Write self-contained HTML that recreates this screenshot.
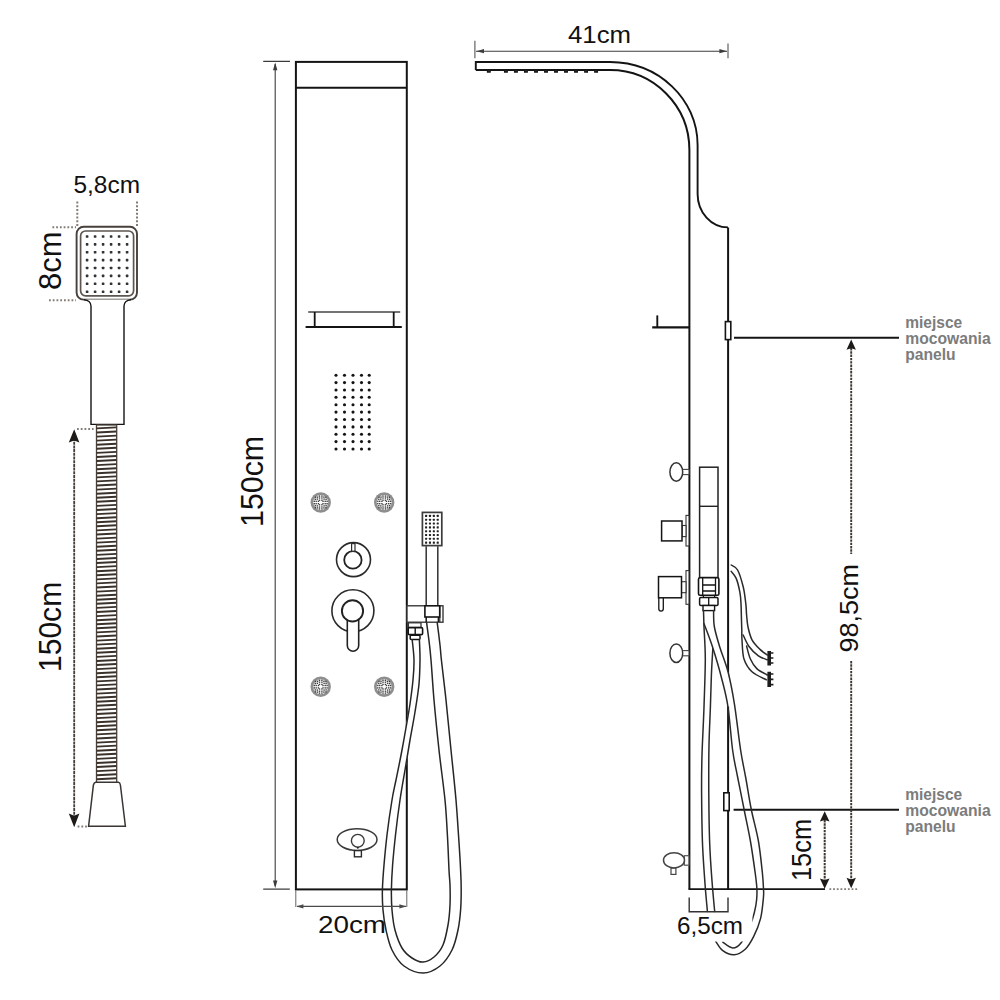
<!DOCTYPE html>
<html><head><meta charset="utf-8"><title>Panel prysznicowy - wymiary</title>
<style>
html,body{margin:0;padding:0;background:#fff;}
body{width:1000px;height:1000px;overflow:hidden;font-family:"Liberation Sans",sans-serif;}
svg{display:block;}
text{font-family:"Liberation Sans",sans-serif;}
</style></head><body>
<svg width="1000" height="1000" viewBox="0 0 1000 1000">
<rect width="1000" height="1000" fill="#fff"/>
<g stroke="#6e665f" stroke-width="2" stroke-dasharray="1.8 1.95" fill="none" opacity="0.85">
<path d="M77.3 201.6V226M137 201.6V226M52.4 227.3H76M49 300.2H76M77 429H93.6M77.6 826.6H89"/>
</g>
<rect x="76.6" y="226.8" width="60.4" height="72.8" rx="7" fill="#fff" stroke="#48403b" stroke-width="1.9"/>
<rect x="80.6" y="231" width="53" height="64.8" rx="5" fill="none" stroke="#5d5550" stroke-width="1.7"/>
<g fill="#333"><rect x="85.8" y="235.2" width="2.6" height="2.6" rx="0.6"/><rect x="93.8" y="235.2" width="2.6" height="2.6" rx="0.6"/><rect x="101.8" y="235.2" width="2.6" height="2.6" rx="0.6"/><rect x="109.8" y="235.2" width="2.6" height="2.6" rx="0.6"/><rect x="117.8" y="235.2" width="2.6" height="2.6" rx="0.6"/><rect x="125.8" y="235.2" width="2.6" height="2.6" rx="0.6"/><rect x="85.8" y="243.1" width="2.6" height="2.6" rx="0.6"/><rect x="93.8" y="243.1" width="2.6" height="2.6" rx="0.6"/><rect x="101.8" y="243.1" width="2.6" height="2.6" rx="0.6"/><rect x="109.8" y="243.1" width="2.6" height="2.6" rx="0.6"/><rect x="117.8" y="243.1" width="2.6" height="2.6" rx="0.6"/><rect x="125.8" y="243.1" width="2.6" height="2.6" rx="0.6"/><rect x="85.8" y="251.0" width="2.6" height="2.6" rx="0.6"/><rect x="93.8" y="251.0" width="2.6" height="2.6" rx="0.6"/><rect x="101.8" y="251.0" width="2.6" height="2.6" rx="0.6"/><rect x="109.8" y="251.0" width="2.6" height="2.6" rx="0.6"/><rect x="117.8" y="251.0" width="2.6" height="2.6" rx="0.6"/><rect x="125.8" y="251.0" width="2.6" height="2.6" rx="0.6"/><rect x="85.8" y="258.8" width="2.6" height="2.6" rx="0.6"/><rect x="93.8" y="258.8" width="2.6" height="2.6" rx="0.6"/><rect x="101.8" y="258.8" width="2.6" height="2.6" rx="0.6"/><rect x="109.8" y="258.8" width="2.6" height="2.6" rx="0.6"/><rect x="117.8" y="258.8" width="2.6" height="2.6" rx="0.6"/><rect x="125.8" y="258.8" width="2.6" height="2.6" rx="0.6"/><rect x="85.8" y="266.7" width="2.6" height="2.6" rx="0.6"/><rect x="93.8" y="266.7" width="2.6" height="2.6" rx="0.6"/><rect x="101.8" y="266.7" width="2.6" height="2.6" rx="0.6"/><rect x="109.8" y="266.7" width="2.6" height="2.6" rx="0.6"/><rect x="117.8" y="266.7" width="2.6" height="2.6" rx="0.6"/><rect x="125.8" y="266.7" width="2.6" height="2.6" rx="0.6"/><rect x="85.8" y="274.6" width="2.6" height="2.6" rx="0.6"/><rect x="93.8" y="274.6" width="2.6" height="2.6" rx="0.6"/><rect x="101.8" y="274.6" width="2.6" height="2.6" rx="0.6"/><rect x="109.8" y="274.6" width="2.6" height="2.6" rx="0.6"/><rect x="117.8" y="274.6" width="2.6" height="2.6" rx="0.6"/><rect x="125.8" y="274.6" width="2.6" height="2.6" rx="0.6"/><rect x="85.8" y="282.5" width="2.6" height="2.6" rx="0.6"/><rect x="93.8" y="282.5" width="2.6" height="2.6" rx="0.6"/><rect x="101.8" y="282.5" width="2.6" height="2.6" rx="0.6"/><rect x="109.8" y="282.5" width="2.6" height="2.6" rx="0.6"/><rect x="117.8" y="282.5" width="2.6" height="2.6" rx="0.6"/><rect x="125.8" y="282.5" width="2.6" height="2.6" rx="0.6"/><rect x="85.8" y="290.4" width="2.6" height="2.6" rx="0.6"/><rect x="93.8" y="290.4" width="2.6" height="2.6" rx="0.6"/><rect x="101.8" y="290.4" width="2.6" height="2.6" rx="0.6"/><rect x="109.8" y="290.4" width="2.6" height="2.6" rx="0.6"/><rect x="117.8" y="290.4" width="2.6" height="2.6" rx="0.6"/><rect x="125.8" y="290.4" width="2.6" height="2.6" rx="0.6"/></g>
<path d="M84 299.6 Q90.8 300.5 91 306 V424.4 H124 V306 Q124.2 300.5 131 299.6" fill="#fff" stroke="#141414" stroke-width="1.4"/>
<rect x="96.5" y="425" width="20.2" height="358" fill="#fff" stroke="#4a413a" stroke-width="1.3"/>
<path d="M96.8 428.4L116.4 427.4M96.8 432.5L116.4 431.5M96.8 436.6L116.4 435.6M96.8 440.6L116.4 439.6M96.8 444.7L116.4 443.7M96.8 448.8L116.4 447.8M96.8 452.9L116.4 451.9M96.8 457.0L116.4 456.0M96.8 461.0L116.4 460.0M96.8 465.1L116.4 464.1M96.8 469.2L116.4 468.2M96.8 473.3L116.4 472.3M96.8 477.4L116.4 476.4M96.8 481.4L116.4 480.4M96.8 485.5L116.4 484.5M96.8 489.6L116.4 488.6M96.8 493.7L116.4 492.7M96.8 497.8L116.4 496.8M96.8 501.8L116.4 500.8M96.8 505.9L116.4 504.9M96.8 510.0L116.4 509.0M96.8 514.1L116.4 513.1M96.8 518.2L116.4 517.2M96.8 522.2L116.4 521.2M96.8 526.3L116.4 525.3M96.8 530.4L116.4 529.4M96.8 534.5L116.4 533.5M96.8 538.6L116.4 537.6M96.8 542.6L116.4 541.6M96.8 546.7L116.4 545.7M96.8 550.8L116.4 549.8M96.8 554.9L116.4 553.9M96.8 559.0L116.4 558.0M96.8 563.0L116.4 562.0M96.8 567.1L116.4 566.1M96.8 571.2L116.4 570.2M96.8 575.3L116.4 574.3M96.8 579.4L116.4 578.4M96.8 583.4L116.4 582.4M96.8 587.5L116.4 586.5M96.8 591.6L116.4 590.6M96.8 595.7L116.4 594.7M96.8 599.8L116.4 598.8M96.8 603.8L116.4 602.8M96.8 607.9L116.4 606.9M96.8 612.0L116.4 611.0M96.8 616.1L116.4 615.1M96.8 620.2L116.4 619.2M96.8 624.2L116.4 623.2M96.8 628.3L116.4 627.3M96.8 632.4L116.4 631.4M96.8 636.5L116.4 635.5M96.8 640.6L116.4 639.6M96.8 644.6L116.4 643.6M96.8 648.7L116.4 647.7M96.8 652.8L116.4 651.8M96.8 656.9L116.4 655.9M96.8 661.0L116.4 660.0M96.8 665.0L116.4 664.0M96.8 669.1L116.4 668.1M96.8 673.2L116.4 672.2M96.8 677.3L116.4 676.3M96.8 681.4L116.4 680.4M96.8 685.4L116.4 684.4M96.8 689.5L116.4 688.5M96.8 693.6L116.4 692.6M96.8 697.7L116.4 696.7M96.8 701.8L116.4 700.8M96.8 705.8L116.4 704.8M96.8 709.9L116.4 708.9M96.8 714.0L116.4 713.0M96.8 718.1L116.4 717.1M96.8 722.2L116.4 721.2M96.8 726.2L116.4 725.2M96.8 730.3L116.4 729.3M96.8 734.4L116.4 733.4M96.8 738.5L116.4 737.5M96.8 742.6L116.4 741.6M96.8 746.6L116.4 745.6M96.8 750.7L116.4 749.7M96.8 754.8L116.4 753.8M96.8 758.9L116.4 757.9M96.8 763.0L116.4 762.0M96.8 767.0L116.4 766.0M96.8 771.1L116.4 770.1M96.8 775.2L116.4 774.2M96.8 779.3L116.4 778.3" stroke="#3a312a" stroke-width="1.9" fill="none"/>
<path d="M95.6 782.2 H118.4 Q120 782.4 120.4 785 L125.4 826.2 H88.6 L93.4 785 Q94 782.4 95.6 782.2Z" fill="#fff" stroke="#3a3532" stroke-width="1.5"/>
<path d="M74.2 438V818" stroke="#453d37" stroke-width="1.8" stroke-dasharray="3 0.7" fill="none"/>
<path d="M74.2 429.2 L68.8 442.4 L74.2 440.4 L79.4 442.4Z M74.2 827.2 L68.8 813.6 L74.2 815.8 L79.4 813.6Z" fill="#1e1a17"/>
<rect x="295.9" y="61.9" width="110.9" height="827.5" fill="none" stroke="#141414" stroke-width="2"/>
<path d="M296 87.7H407" stroke="#141414" stroke-width="2"/>
<path d="M263.2 61.4H290M263.2 889.2H289.8" stroke="#3c3c3c" stroke-width="1.3"/>
<path d="M275.2 64V886" stroke="#3c3c3c" stroke-width="1.1"/>
<path d="M275.2 62.6l-2.2 7.6h4.4zM275.2 888.2l-2.2-7.6h4.4z" fill="#3c3c3c"/>
<path d="M308.2 311.9H400.2" stroke="#444" stroke-width="1.5"/>
<path d="M305.6 327H401.8" stroke="#141414" stroke-width="2"/>
<path d="M314.7 312V327M393.7 312V327" stroke="#141414" stroke-width="1.8"/>
<g fill="#141414"><circle cx="336" cy="375.2" r="1.55"/><circle cx="344.5" cy="375.2" r="1.55"/><circle cx="353" cy="375.2" r="1.55"/><circle cx="361.5" cy="375.2" r="1.55"/><circle cx="369.2" cy="375.2" r="1.55"/><circle cx="336" cy="382.6" r="1.55"/><circle cx="344.5" cy="382.6" r="1.55"/><circle cx="353" cy="382.6" r="1.55"/><circle cx="361.5" cy="382.6" r="1.55"/><circle cx="369.2" cy="382.6" r="1.55"/><circle cx="336" cy="390.0" r="1.55"/><circle cx="344.5" cy="390.0" r="1.55"/><circle cx="353" cy="390.0" r="1.55"/><circle cx="361.5" cy="390.0" r="1.55"/><circle cx="369.2" cy="390.0" r="1.55"/><circle cx="336" cy="397.3" r="1.55"/><circle cx="344.5" cy="397.3" r="1.55"/><circle cx="353" cy="397.3" r="1.55"/><circle cx="361.5" cy="397.3" r="1.55"/><circle cx="369.2" cy="397.3" r="1.55"/><circle cx="336" cy="404.7" r="1.55"/><circle cx="344.5" cy="404.7" r="1.55"/><circle cx="353" cy="404.7" r="1.55"/><circle cx="361.5" cy="404.7" r="1.55"/><circle cx="369.2" cy="404.7" r="1.55"/><circle cx="336" cy="412.1" r="1.55"/><circle cx="344.5" cy="412.1" r="1.55"/><circle cx="353" cy="412.1" r="1.55"/><circle cx="361.5" cy="412.1" r="1.55"/><circle cx="369.2" cy="412.1" r="1.55"/><circle cx="336" cy="419.5" r="1.55"/><circle cx="344.5" cy="419.5" r="1.55"/><circle cx="353" cy="419.5" r="1.55"/><circle cx="361.5" cy="419.5" r="1.55"/><circle cx="369.2" cy="419.5" r="1.55"/><circle cx="336" cy="426.9" r="1.55"/><circle cx="344.5" cy="426.9" r="1.55"/><circle cx="353" cy="426.9" r="1.55"/><circle cx="361.5" cy="426.9" r="1.55"/><circle cx="369.2" cy="426.9" r="1.55"/><circle cx="336" cy="434.2" r="1.55"/><circle cx="344.5" cy="434.2" r="1.55"/><circle cx="353" cy="434.2" r="1.55"/><circle cx="361.5" cy="434.2" r="1.55"/><circle cx="369.2" cy="434.2" r="1.55"/><circle cx="336" cy="441.6" r="1.55"/><circle cx="344.5" cy="441.6" r="1.55"/><circle cx="353" cy="441.6" r="1.55"/><circle cx="361.5" cy="441.6" r="1.55"/><circle cx="369.2" cy="441.6" r="1.55"/><circle cx="336" cy="449.0" r="1.55"/><circle cx="344.5" cy="449.0" r="1.55"/><circle cx="353" cy="449.0" r="1.55"/><circle cx="361.5" cy="449.0" r="1.55"/><circle cx="369.2" cy="449.0" r="1.55"/></g>
<circle cx="320.7" cy="502.5" r="10.2" fill="#8e8e8e"/><circle cx="320.7" cy="502.5" r="7.5" fill="#fbfbfb"/><g fill="#3a3a3a"><rect x="321.23" y="504.13" width="1.35" height="1.35"/><rect x="318.83" y="504.13" width="1.35" height="1.35"/><rect x="321.23" y="499.53" width="1.35" height="1.35"/><rect x="318.83" y="499.53" width="1.35" height="1.35"/><rect x="322.33" y="503.03" width="1.35" height="1.35"/><rect x="317.73" y="503.03" width="1.35" height="1.35"/><rect x="322.33" y="500.63" width="1.35" height="1.35"/><rect x="317.73" y="500.63" width="1.35" height="1.35"/><rect x="321.23" y="506.33" width="1.35" height="1.35"/><rect x="318.83" y="506.33" width="1.35" height="1.35"/><rect x="321.23" y="497.33" width="1.35" height="1.35"/><rect x="318.83" y="497.33" width="1.35" height="1.35"/><rect x="324.53" y="503.03" width="1.35" height="1.35"/><rect x="315.53" y="503.03" width="1.35" height="1.35"/><rect x="324.53" y="500.63" width="1.35" height="1.35"/><rect x="315.53" y="500.63" width="1.35" height="1.35"/><rect x="321.23" y="508.23" width="1.35" height="1.35"/><rect x="318.83" y="508.23" width="1.35" height="1.35"/><rect x="321.23" y="495.43" width="1.35" height="1.35"/><rect x="318.83" y="495.43" width="1.35" height="1.35"/><rect x="326.43" y="503.03" width="1.35" height="1.35"/><rect x="313.63" y="503.03" width="1.35" height="1.35"/><rect x="326.43" y="500.63" width="1.35" height="1.35"/><rect x="313.63" y="500.63" width="1.35" height="1.35"/><rect x="323.43" y="505.23" width="1.35" height="1.35"/><rect x="316.63" y="505.23" width="1.35" height="1.35"/><rect x="323.43" y="498.43" width="1.35" height="1.35"/><rect x="316.63" y="498.43" width="1.35" height="1.35"/><rect x="325.43" y="505.03" width="1.35" height="1.35"/><rect x="314.63" y="505.03" width="1.35" height="1.35"/><rect x="325.43" y="498.63" width="1.35" height="1.35"/><rect x="314.63" y="498.63" width="1.35" height="1.35"/><rect x="323.23" y="507.23" width="1.35" height="1.35"/><rect x="316.83" y="507.23" width="1.35" height="1.35"/><rect x="323.23" y="496.43" width="1.35" height="1.35"/><rect x="316.83" y="496.43" width="1.35" height="1.35"/><rect x="325.23" y="507.03" width="1.35" height="1.35"/><rect x="314.83" y="507.03" width="1.35" height="1.35"/><rect x="325.23" y="496.63" width="1.35" height="1.35"/><rect x="314.83" y="496.63" width="1.35" height="1.35"/></g>
<circle cx="384.2" cy="502.5" r="10.2" fill="#8e8e8e"/><circle cx="384.2" cy="502.5" r="7.5" fill="#fbfbfb"/><g fill="#3a3a3a"><rect x="384.73" y="504.13" width="1.35" height="1.35"/><rect x="382.33" y="504.13" width="1.35" height="1.35"/><rect x="384.73" y="499.53" width="1.35" height="1.35"/><rect x="382.33" y="499.53" width="1.35" height="1.35"/><rect x="385.83" y="503.03" width="1.35" height="1.35"/><rect x="381.23" y="503.03" width="1.35" height="1.35"/><rect x="385.83" y="500.63" width="1.35" height="1.35"/><rect x="381.23" y="500.63" width="1.35" height="1.35"/><rect x="384.73" y="506.33" width="1.35" height="1.35"/><rect x="382.33" y="506.33" width="1.35" height="1.35"/><rect x="384.73" y="497.33" width="1.35" height="1.35"/><rect x="382.33" y="497.33" width="1.35" height="1.35"/><rect x="388.03" y="503.03" width="1.35" height="1.35"/><rect x="379.03" y="503.03" width="1.35" height="1.35"/><rect x="388.03" y="500.63" width="1.35" height="1.35"/><rect x="379.03" y="500.63" width="1.35" height="1.35"/><rect x="384.73" y="508.23" width="1.35" height="1.35"/><rect x="382.33" y="508.23" width="1.35" height="1.35"/><rect x="384.73" y="495.43" width="1.35" height="1.35"/><rect x="382.33" y="495.43" width="1.35" height="1.35"/><rect x="389.93" y="503.03" width="1.35" height="1.35"/><rect x="377.13" y="503.03" width="1.35" height="1.35"/><rect x="389.93" y="500.63" width="1.35" height="1.35"/><rect x="377.13" y="500.63" width="1.35" height="1.35"/><rect x="386.93" y="505.23" width="1.35" height="1.35"/><rect x="380.13" y="505.23" width="1.35" height="1.35"/><rect x="386.93" y="498.43" width="1.35" height="1.35"/><rect x="380.13" y="498.43" width="1.35" height="1.35"/><rect x="388.93" y="505.03" width="1.35" height="1.35"/><rect x="378.13" y="505.03" width="1.35" height="1.35"/><rect x="388.93" y="498.63" width="1.35" height="1.35"/><rect x="378.13" y="498.63" width="1.35" height="1.35"/><rect x="386.73" y="507.23" width="1.35" height="1.35"/><rect x="380.33" y="507.23" width="1.35" height="1.35"/><rect x="386.73" y="496.43" width="1.35" height="1.35"/><rect x="380.33" y="496.43" width="1.35" height="1.35"/><rect x="388.73" y="507.03" width="1.35" height="1.35"/><rect x="378.33" y="507.03" width="1.35" height="1.35"/><rect x="388.73" y="496.63" width="1.35" height="1.35"/><rect x="378.33" y="496.63" width="1.35" height="1.35"/></g>
<circle cx="320.7" cy="686.7" r="10.2" fill="#8e8e8e"/><circle cx="320.7" cy="686.7" r="7.5" fill="#fbfbfb"/><g fill="#3a3a3a"><rect x="321.23" y="688.33" width="1.35" height="1.35"/><rect x="318.83" y="688.33" width="1.35" height="1.35"/><rect x="321.23" y="683.73" width="1.35" height="1.35"/><rect x="318.83" y="683.73" width="1.35" height="1.35"/><rect x="322.33" y="687.23" width="1.35" height="1.35"/><rect x="317.73" y="687.23" width="1.35" height="1.35"/><rect x="322.33" y="684.83" width="1.35" height="1.35"/><rect x="317.73" y="684.83" width="1.35" height="1.35"/><rect x="321.23" y="690.53" width="1.35" height="1.35"/><rect x="318.83" y="690.53" width="1.35" height="1.35"/><rect x="321.23" y="681.53" width="1.35" height="1.35"/><rect x="318.83" y="681.53" width="1.35" height="1.35"/><rect x="324.53" y="687.23" width="1.35" height="1.35"/><rect x="315.53" y="687.23" width="1.35" height="1.35"/><rect x="324.53" y="684.83" width="1.35" height="1.35"/><rect x="315.53" y="684.83" width="1.35" height="1.35"/><rect x="321.23" y="692.43" width="1.35" height="1.35"/><rect x="318.83" y="692.43" width="1.35" height="1.35"/><rect x="321.23" y="679.63" width="1.35" height="1.35"/><rect x="318.83" y="679.63" width="1.35" height="1.35"/><rect x="326.43" y="687.23" width="1.35" height="1.35"/><rect x="313.63" y="687.23" width="1.35" height="1.35"/><rect x="326.43" y="684.83" width="1.35" height="1.35"/><rect x="313.63" y="684.83" width="1.35" height="1.35"/><rect x="323.43" y="689.43" width="1.35" height="1.35"/><rect x="316.63" y="689.43" width="1.35" height="1.35"/><rect x="323.43" y="682.63" width="1.35" height="1.35"/><rect x="316.63" y="682.63" width="1.35" height="1.35"/><rect x="325.43" y="689.23" width="1.35" height="1.35"/><rect x="314.63" y="689.23" width="1.35" height="1.35"/><rect x="325.43" y="682.83" width="1.35" height="1.35"/><rect x="314.63" y="682.83" width="1.35" height="1.35"/><rect x="323.23" y="691.43" width="1.35" height="1.35"/><rect x="316.83" y="691.43" width="1.35" height="1.35"/><rect x="323.23" y="680.63" width="1.35" height="1.35"/><rect x="316.83" y="680.63" width="1.35" height="1.35"/><rect x="325.23" y="691.23" width="1.35" height="1.35"/><rect x="314.83" y="691.23" width="1.35" height="1.35"/><rect x="325.23" y="680.83" width="1.35" height="1.35"/><rect x="314.83" y="680.83" width="1.35" height="1.35"/></g>
<circle cx="384.2" cy="686.7" r="10.2" fill="#8e8e8e"/><circle cx="384.2" cy="686.7" r="7.5" fill="#fbfbfb"/><g fill="#3a3a3a"><rect x="384.73" y="688.33" width="1.35" height="1.35"/><rect x="382.33" y="688.33" width="1.35" height="1.35"/><rect x="384.73" y="683.73" width="1.35" height="1.35"/><rect x="382.33" y="683.73" width="1.35" height="1.35"/><rect x="385.83" y="687.23" width="1.35" height="1.35"/><rect x="381.23" y="687.23" width="1.35" height="1.35"/><rect x="385.83" y="684.83" width="1.35" height="1.35"/><rect x="381.23" y="684.83" width="1.35" height="1.35"/><rect x="384.73" y="690.53" width="1.35" height="1.35"/><rect x="382.33" y="690.53" width="1.35" height="1.35"/><rect x="384.73" y="681.53" width="1.35" height="1.35"/><rect x="382.33" y="681.53" width="1.35" height="1.35"/><rect x="388.03" y="687.23" width="1.35" height="1.35"/><rect x="379.03" y="687.23" width="1.35" height="1.35"/><rect x="388.03" y="684.83" width="1.35" height="1.35"/><rect x="379.03" y="684.83" width="1.35" height="1.35"/><rect x="384.73" y="692.43" width="1.35" height="1.35"/><rect x="382.33" y="692.43" width="1.35" height="1.35"/><rect x="384.73" y="679.63" width="1.35" height="1.35"/><rect x="382.33" y="679.63" width="1.35" height="1.35"/><rect x="389.93" y="687.23" width="1.35" height="1.35"/><rect x="377.13" y="687.23" width="1.35" height="1.35"/><rect x="389.93" y="684.83" width="1.35" height="1.35"/><rect x="377.13" y="684.83" width="1.35" height="1.35"/><rect x="386.93" y="689.43" width="1.35" height="1.35"/><rect x="380.13" y="689.43" width="1.35" height="1.35"/><rect x="386.93" y="682.63" width="1.35" height="1.35"/><rect x="380.13" y="682.63" width="1.35" height="1.35"/><rect x="388.93" y="689.23" width="1.35" height="1.35"/><rect x="378.13" y="689.23" width="1.35" height="1.35"/><rect x="388.93" y="682.83" width="1.35" height="1.35"/><rect x="378.13" y="682.83" width="1.35" height="1.35"/><rect x="386.73" y="691.43" width="1.35" height="1.35"/><rect x="380.33" y="691.43" width="1.35" height="1.35"/><rect x="386.73" y="680.63" width="1.35" height="1.35"/><rect x="380.33" y="680.63" width="1.35" height="1.35"/><rect x="388.73" y="691.23" width="1.35" height="1.35"/><rect x="378.33" y="691.23" width="1.35" height="1.35"/><rect x="388.73" y="680.83" width="1.35" height="1.35"/><rect x="378.33" y="680.83" width="1.35" height="1.35"/></g>
<circle cx="353.5" cy="559.6" r="17" fill="none" stroke="#2a2a2a" stroke-width="1.6"/>
<circle cx="352.9" cy="559.9" r="8.7" fill="none" stroke="#222" stroke-width="1.8"/>
<rect x="351.6" y="543.6" width="3.4" height="7.6" fill="#fff" stroke="#2a2a2a" stroke-width="1.2"/>
<circle cx="352.9" cy="610.8" r="21" fill="none" stroke="#2a2a2a" stroke-width="1.6"/>
<path d="M347.3 618V645.5a5.7 5.7 0 0 0 11.4 0V618" fill="#fff" stroke="#222" stroke-width="1.6"/>
<circle cx="352.5" cy="610.9" r="10.6" fill="#fff" stroke="#222" stroke-width="1.9"/>
<ellipse cx="357.1" cy="839.6" rx="19.9" ry="10.8" fill="none" stroke="#3a3a3a" stroke-width="1.5"/>
<circle cx="357.8" cy="840.8" r="6.4" fill="none" stroke="#3a3a3a" stroke-width="1.4"/>
<circle cx="357.8" cy="847.8" r="1" fill="#222"/>
<rect x="354.4" y="850.6" width="7" height="6.2" fill="#fff" stroke="#2a2a2a" stroke-width="1.4"/>
<rect x="422.4" y="512.4" width="19.4" height="33.2" fill="#fff" stroke="#3c3c3c" stroke-width="1.7"/>
<g fill="#222"><rect x="425.05" y="514.85" width="2.1" height="2.1" rx="0.5"/><rect x="428.92" y="514.85" width="2.1" height="2.1" rx="0.5"/><rect x="432.79" y="514.85" width="2.1" height="2.1" rx="0.5"/><rect x="436.66" y="514.85" width="2.1" height="2.1" rx="0.5"/><rect x="425.05" y="518.67" width="2.1" height="2.1" rx="0.5"/><rect x="428.92" y="518.67" width="2.1" height="2.1" rx="0.5"/><rect x="432.79" y="518.67" width="2.1" height="2.1" rx="0.5"/><rect x="436.66" y="518.67" width="2.1" height="2.1" rx="0.5"/><rect x="425.05" y="522.49" width="2.1" height="2.1" rx="0.5"/><rect x="428.92" y="522.49" width="2.1" height="2.1" rx="0.5"/><rect x="432.79" y="522.49" width="2.1" height="2.1" rx="0.5"/><rect x="436.66" y="522.49" width="2.1" height="2.1" rx="0.5"/><rect x="425.05" y="526.31" width="2.1" height="2.1" rx="0.5"/><rect x="428.92" y="526.31" width="2.1" height="2.1" rx="0.5"/><rect x="432.79" y="526.31" width="2.1" height="2.1" rx="0.5"/><rect x="436.66" y="526.31" width="2.1" height="2.1" rx="0.5"/><rect x="425.05" y="530.13" width="2.1" height="2.1" rx="0.5"/><rect x="428.92" y="530.13" width="2.1" height="2.1" rx="0.5"/><rect x="432.79" y="530.13" width="2.1" height="2.1" rx="0.5"/><rect x="436.66" y="530.13" width="2.1" height="2.1" rx="0.5"/><rect x="425.05" y="533.95" width="2.1" height="2.1" rx="0.5"/><rect x="428.92" y="533.95" width="2.1" height="2.1" rx="0.5"/><rect x="432.79" y="533.95" width="2.1" height="2.1" rx="0.5"/><rect x="436.66" y="533.95" width="2.1" height="2.1" rx="0.5"/><rect x="425.05" y="537.77" width="2.1" height="2.1" rx="0.5"/><rect x="428.92" y="537.77" width="2.1" height="2.1" rx="0.5"/><rect x="432.79" y="537.77" width="2.1" height="2.1" rx="0.5"/><rect x="436.66" y="537.77" width="2.1" height="2.1" rx="0.5"/><rect x="425.05" y="541.59" width="2.1" height="2.1" rx="0.5"/><rect x="428.92" y="541.59" width="2.1" height="2.1" rx="0.5"/><rect x="432.79" y="541.59" width="2.1" height="2.1" rx="0.5"/><rect x="436.66" y="541.59" width="2.1" height="2.1" rx="0.5"/></g>
<path d="M426.2 546.2V605M437.8 546.2V605" stroke="#333" stroke-width="1.5"/>
<rect x="407" y="605.8" width="36" height="16.4" fill="#fff" stroke="#3a3a3a" stroke-width="1.4"/>
<path d="M439.8 606V622" stroke="#3a3a3a" stroke-width="1.3"/>
<path d="M426.2 617V622M438.4 617V622" stroke="#141414" stroke-width="1.5"/>
<rect x="424.9" y="605.8" width="14.8" height="11.2" fill="#fff" stroke="#141414" stroke-width="1.6"/>
<rect x="408.4" y="622.8" width="12.6" height="4.7" fill="#fff" stroke="#333" stroke-width="1.3"/>
<rect x="408.2" y="627.6" width="14.4" height="7" rx="1.2" fill="#fff" stroke="#141414" stroke-width="1.6"/>
<path d="M415.2 627.6V634.6" stroke="#141414" stroke-width="1.4"/>
<rect x="410.2" y="635.2" width="9.8" height="4.2" rx="1" fill="#fff" stroke="#141414" stroke-width="1.5"/>
<path d="M414.5 690.0C414.2 693.0 413.5 701.2 412.5 708.0C411.5 714.8 410.0 722.3 408.5 731.0C407.0 739.7 405.2 750.2 403.5 760.0C401.8 769.8 399.2 783.3 398.0 790.0C396.8 796.7 396.3 798.3 396.0 800.0" stroke="#fff" stroke-width="7" fill="none"/>
<path d="M412.2 639.8C412.5 643.2 413.9 653.3 414.0 660.0C414.1 666.7 413.7 672.7 413.0 680.0C412.3 687.3 411.0 697.0 410.0 704.0C409.0 711.0 408.3 714.3 407.0 722.0C405.7 729.7 403.8 740.3 402.0 750.0C400.2 759.7 397.7 771.7 396.0 780.0C394.3 788.3 393.5 790.8 392.0 800.0C390.5 809.2 388.3 824.2 387.0 835.0C385.7 845.8 384.8 855.8 384.0 865.0C383.2 874.2 382.6 882.5 382.4 890.0C382.2 897.5 382.4 903.3 383.0 910.0C383.6 916.7 384.5 923.3 386.0 930.0C387.5 936.7 389.0 944.0 392.0 950.0C395.0 956.0 398.8 962.2 404.0 966.0C409.2 969.8 417.0 973.0 423.0 973.0C429.0 973.0 435.2 969.8 440.0 966.0C444.8 962.2 449.0 956.0 452.0 950.0C455.0 944.0 456.6 936.7 458.0 930.0C459.4 923.3 460.1 916.7 460.6 910.0C461.1 903.3 461.2 896.7 461.2 890.0C461.2 883.3 461.1 879.2 460.6 870.0C460.2 860.8 459.3 846.7 458.5 835.0C457.7 823.3 457.2 814.2 456.0 800.0C454.8 785.8 452.7 766.7 451.0 750.0C449.3 733.3 447.6 715.0 446.0 700.0C444.4 685.0 442.4 669.2 441.4 660.0C440.4 650.8 440.7 651.2 440.0 645.0C439.3 638.8 437.7 626.3 437.2 622.6" stroke="#262626" stroke-width="1.5" fill="none" stroke-linecap="round"/>
<path d="M419.4 639.8C419.5 643.2 420.1 652.6 420.0 660.0C419.9 667.4 419.8 675.3 419.0 684.0C418.2 692.7 416.5 702.7 415.0 712.0C413.5 721.3 411.7 730.3 410.0 740.0C408.3 749.7 406.7 760.0 405.0 770.0C403.3 780.0 401.6 789.2 400.0 800.0C398.4 810.8 396.7 824.2 395.5 835.0C394.3 845.8 393.3 855.8 392.6 865.0C391.9 874.2 391.5 882.5 391.4 890.0C391.3 897.5 391.4 903.3 392.0 910.0C392.6 916.7 393.3 923.7 395.0 930.0C396.7 936.3 399.2 943.3 402.0 948.0C404.8 952.7 408.5 955.7 412.0 958.0C415.5 960.3 419.3 962.2 423.0 962.0C426.7 961.8 430.7 959.8 434.0 957.0C437.3 954.2 440.7 950.3 443.0 945.0C445.3 939.7 446.8 931.7 448.0 925.0C449.2 918.3 449.7 911.7 450.0 905.0C450.3 898.3 450.2 890.8 450.0 885.0C449.8 879.2 449.4 878.3 449.0 870.0C448.6 861.7 448.1 846.7 447.4 835.0C446.7 823.3 446.4 814.2 445.0 800.0C443.6 785.8 440.8 766.7 439.0 750.0C437.2 733.3 435.3 715.0 434.0 700.0C432.7 685.0 431.8 669.2 431.0 660.0C430.2 650.8 430.2 651.2 429.5 645.0C428.8 638.8 427.1 626.3 426.6 622.6" stroke="#262626" stroke-width="1.5" fill="none" stroke-linecap="round"/>
<path d="M295.8 890V907M406.8 890V907" stroke="#666" stroke-width="1"/>
<path d="M297 906.4H406" stroke="#4a4a4a" stroke-width="1.2"/>
<path d="M296.4 906.4l7-2.2v4.4zM406.4 906.4l-7-2.2v4.4z" fill="#4a4a4a"/>
<path d="M474.9 40.8V58.2M728 43.6V58.2" stroke="#555" stroke-width="1.1"/>
<path d="M476 51.2H727" stroke="#3c3c3c" stroke-width="1.1"/>
<path d="M476.4 51.2l7.6-2.1v4.2zM727 51.2l-7.6-2.1v4.2z" fill="#3c3c3c"/>
<path d="M475.8 70V62H610 C658.4 62 697.6 99.2 697.6 145 V194 C697.6 212.4 711.2 227.4 728 227.4" fill="none" stroke="#141414" stroke-width="1.9"/>
<path d="M728.1 227.4V889.4" fill="none" stroke="#141414" stroke-width="2"/>
<path d="M475.8 70H610 C653.8 70 689.4 105.8 689.4 150 V889.4" fill="none" stroke="#141414" stroke-width="2"/>
<path d="M487.4 70.6v1.5h2.8v-1.5M504.5 70.6v1.5h2.8v-1.5M514.5 70.6v1.5h2.8v-1.5M524.5 70.6v1.5h2.8v-1.5M534.6 70.6v1.5h2.8v-1.5M544.6 70.6v1.5h2.8v-1.5M554.6 70.6v1.5h2.8v-1.5M564.6 70.6v1.5h2.8v-1.5M574.6 70.6v1.5h2.8v-1.5M584.7 70.6v1.5h2.8v-1.5M594.7 70.6v1.5h2.8v-1.5" stroke="#141414" stroke-width="1.1" fill="#333"/>
<path d="M688.6 889.2H825" stroke="#141414" stroke-width="1.7"/>
<path d="M829.4 889.2H859" stroke="#6e665f" stroke-width="1.8" stroke-dasharray="1.8 1.9" opacity="0.85"/>
<path d="M652.2 327.3H689" stroke="#141414" stroke-width="2.3"/>
<path d="M657.3 315.4V327" stroke="#141414" stroke-width="1.9"/>
<rect x="725.4" y="321.6" width="5.4" height="18" fill="#fff" stroke="#141414" stroke-width="1.6"/>
<path d="M734 337.8H899" stroke="#141414" stroke-width="1.9"/>
<rect x="723.8" y="792.8" width="5.4" height="17.8" fill="#fff" stroke="#141414" stroke-width="1.6"/>
<path d="M733.6 809.8H899" stroke="#141414" stroke-width="1.9"/>
<rect x="682" y="469.4" width="7" height="5.2" fill="#fff" stroke="#444" stroke-width="1.1"/>
<ellipse cx="676.3" cy="472" rx="6.4" ry="9.2" fill="#fff" stroke="#333" stroke-width="1.5"/>
<rect x="682" y="650.6" width="7" height="5.2" fill="#fff" stroke="#444" stroke-width="1.1"/>
<ellipse cx="676.3" cy="653.2" rx="6.4" ry="9.2" fill="#fff" stroke="#333" stroke-width="1.5"/>
<rect x="686" y="515.4" width="3" height="30.6" fill="#fff" stroke="#333" stroke-width="1.1"/>
<rect x="682" y="525.5" width="4" height="11.1" fill="#fff" stroke="#333" stroke-width="1.1"/>
<rect x="661.6" y="521" width="20.4" height="19.9" fill="#fff" stroke="#141414" stroke-width="1.5"/>
<rect x="686" y="570.6" width="3" height="33.7" fill="#fff" stroke="#333" stroke-width="1.1"/>
<rect x="681.5" y="581.7" width="4.5" height="11" fill="#fff" stroke="#333" stroke-width="1.1"/>
<path d="M658.8 597.8V608.8a2.25 2.25 0 0 0 4.5 0V597.8" fill="#fff" stroke="#141414" stroke-width="1.3"/>
<rect x="658.5" y="576.6" width="23" height="21.2" fill="#fff" stroke="#141414" stroke-width="1.5"/>
<rect x="699.6" y="467.2" width="18.4" height="110.3" fill="#fff" stroke="#222" stroke-width="1.5"/>
<path d="M699.6 506.3H718" stroke="#222" stroke-width="1.4"/>
<rect x="698.5" y="577.7" width="20.4" height="17.6" rx="1.5" fill="#fff" stroke="#141414" stroke-width="1.6"/>
<path d="M702.7 578V595.3M715.5 578V595.3M702.7 585H715.5M702.7 591H715.5" stroke="#141414" stroke-width="1.3" fill="none"/>
<path d="M703.4 595.3V597.5M714.6 595.3V597.5" stroke="#141414" stroke-width="1.2"/>
<rect x="699.6" y="597.5" width="18.4" height="8" rx="1.2" fill="#fff" stroke="#141414" stroke-width="1.5"/>
<path d="M708.7 597.5V605.5" stroke="#141414" stroke-width="1.3"/>
<rect x="703" y="605.5" width="11.6" height="5.1" fill="#fff" stroke="#141414" stroke-width="1.4"/>
<path d="M703.5 610.5C703.6 613.2 703.7 618.9 704.0 627.0C704.3 635.1 705.3 645.7 705.3 659.0C705.3 672.3 704.5 691.0 704.0 707.0C703.5 723.0 702.4 740.7 702.0 755.0C701.6 769.3 701.5 778.7 701.6 793.0C701.7 807.3 701.9 826.3 702.4 841.0C702.9 855.7 704.0 869.2 704.8 881.0C705.6 892.8 707.0 906.4 707.4 911.5" stroke="#2a2a2a" stroke-width="1.5" fill="none" stroke-linecap="round"/>
<path d="M713.0 646.0C712.7 650.8 711.8 664.8 711.4 675.0C711.0 685.2 710.8 695.3 710.4 707.0C710.0 718.7 709.3 730.7 709.0 745.0C708.7 759.3 708.7 777.0 708.8 793.0C708.9 809.0 709.1 826.3 709.6 841.0C710.1 855.7 711.1 869.2 712.0 881.0C712.9 892.8 714.2 906.4 714.7 911.5" stroke="#2a2a2a" stroke-width="1.5" fill="none" stroke-linecap="round"/>
<path d="M713.6 611 L714.4 627 L720 647.8 L728 671.8 L734.4 703.8 L728 707 L721.6 678.2 L712.8 647.8 L706 628Z" fill="#fff" stroke="none"/>
<path d="M704.0 623.8C705.5 627.8 709.9 638.7 712.8 647.8C715.7 656.9 719.1 668.3 721.6 678.2C724.1 688.1 726.2 695.0 728.0 707.0C729.8 719.0 731.0 738.3 732.6 750.0C734.2 761.7 735.7 767.2 737.6 777.0C739.5 786.8 741.9 798.3 744.0 809.0C746.1 819.7 748.5 830.3 750.4 841.0C752.3 851.7 754.1 865.0 755.2 873.0C756.3 881.0 756.7 884.5 756.9 889.0C757.1 893.5 757.0 896.0 756.6 900.0C756.2 904.0 755.4 908.5 754.3 912.8C753.2 917.1 752.2 921.0 750.0 926.0C747.8 931.0 743.9 939.3 741.0 943.0C738.1 946.7 735.6 948.1 732.6 948.0C729.6 947.9 724.4 943.2 722.8 942.2" stroke="#2a2a2a" stroke-width="1.5" fill="none" stroke-linecap="round"/>
<path d="M713.6 610.5C713.7 613.2 713.3 620.8 714.4 627.0C715.5 633.2 717.7 640.3 720.0 647.8C722.3 655.3 725.6 662.5 728.0 671.8C730.4 681.1 732.3 690.8 734.4 703.8C736.5 716.8 738.7 737.8 740.6 750.0C742.5 762.2 743.8 767.2 745.6 777.0C747.4 786.8 749.1 798.3 751.2 809.0C753.3 819.7 756.5 830.3 758.4 841.0C760.3 851.7 761.5 865.0 762.4 873.0C763.2 881.0 763.3 884.8 763.5 889.0C763.7 893.2 763.9 893.1 763.4 898.0C762.9 902.9 762.2 912.0 760.6 918.4C759.0 924.8 756.2 931.5 753.6 936.6C751.0 941.7 748.5 946.2 745.2 949.2C741.9 952.2 737.7 954.6 734.0 954.8C730.3 955.0 725.8 952.8 722.8 950.6C719.8 948.4 717.0 943.0 715.8 941.5" stroke="#2a2a2a" stroke-width="1.5" fill="none" stroke-linecap="round"/>
<path d="M731.2 565.0C732.3 565.8 735.6 566.4 737.6 570.0C739.6 573.6 741.8 581.2 743.2 586.8C744.6 592.4 745.2 598.9 745.8 603.6C746.4 608.3 746.2 611.1 746.6 615.0C747.0 618.9 747.1 622.9 748.0 627.0C748.9 631.1 750.0 636.1 752.0 639.8C754.0 643.5 757.5 646.9 760.0 649.4C762.5 651.9 766.0 654.1 767.2 655.0" stroke="#2a2a2a" stroke-width="1.5" fill="none" stroke-linecap="round"/>
<path d="M731.2 571.4C732.0 572.6 734.8 574.9 736.2 578.4C737.7 581.9 739.1 588.2 739.9 592.4C740.7 596.6 740.8 599.5 741.0 603.6C741.2 607.7 741.3 612.6 741.4 617.0C741.5 621.4 741.7 626.2 741.8 630.0C741.9 633.8 741.6 635.2 742.0 640.0C742.4 644.8 742.3 653.7 744.0 659.0C745.7 664.3 748.3 668.3 752.0 671.8C755.7 675.3 764.0 678.5 766.4 679.8" stroke="#2a2a2a" stroke-width="1.5" fill="none" stroke-linecap="round"/>
<path d="M743.2 635.0C744.1 636.9 746.3 642.7 748.8 646.2C751.3 649.7 755.3 653.5 758.4 655.8C761.5 658.1 765.7 659.1 767.2 659.8" stroke="#2a2a2a" stroke-width="1.5" fill="none" stroke-linecap="round"/>
<path d="M746.6 646.0C747.2 648.2 748.7 655.2 750.4 659.0C752.1 662.8 754.0 665.9 756.8 668.6C759.6 671.3 765.5 673.9 767.2 675.0" stroke="#2a2a2a" stroke-width="1.5" fill="none" stroke-linecap="round"/>
<path d="M769.2 651V665.4M769.2 671.8V687" stroke="#1c1c1c" stroke-width="3.6"/>
<path d="M771 653h2.4M771 658h2.4M771 663h2.4M771 674h2.4M771 679.4h2.4M771 684.6h2.4" stroke="#1c1c1c" stroke-width="1.6"/>
<rect x="684.3" y="855.7" width="4.6" height="9.5" fill="#fff" stroke="#555" stroke-width="1.2"/>
<ellipse cx="674" cy="860.3" rx="10.5" ry="7.6" fill="#fff" stroke="#444" stroke-width="1.5"/>
<rect x="671" y="868.2" width="4.9" height="6.2" fill="#fff" stroke="#444" stroke-width="1.2"/>
<path d="M689.2 897.4V911.8H728V897.4" fill="none" stroke="#333" stroke-width="1.4"/>
<path d="M824.7 820V880" stroke="#40372f" stroke-width="2" stroke-dasharray="2.4 0.9"/>
<path d="M824.7 811.2l-4.8 10.4l4.8-1.6l4.8 1.6zM824.7 888.8l-4.8-10.4l4.8 1.6l4.8-1.6z" fill="#1e1a17"/>
<path d="M851.2 348V554M851.2 661V880" stroke="#40372f" stroke-width="1.9" stroke-dasharray="2.4 0.9"/>
<path d="M851.2 339.4l-4.7 10.4l4.7-1.6l4.7 1.6zM851.2 888.2l-4.7-10.4l4.7 1.6l4.7-1.6z" fill="#1e1a17"/>
<g font-family="Liberation Sans, sans-serif"><path d="M676 914.4H752.4V931L747 941.4H676Z" fill="#fff"/>
<text x="73.5" y="193" font-size="23" fill="#111" font-weight="normal" text-anchor="start" textLength="66.53" lengthAdjust="spacingAndGlyphs">5,8cm</text>
<text x="61.3" y="290.0" font-size="31" fill="#111" font-weight="normal" text-anchor="start" textLength="58.65" lengthAdjust="spacingAndGlyphs" transform="rotate(-90 61.3 290.0)">8cm</text>
<text x="61.3" y="672.0" font-size="31.3" fill="#111" font-weight="normal" text-anchor="start" textLength="90.16" lengthAdjust="spacingAndGlyphs" transform="rotate(-90 61.3 672.0)">150cm</text>
<text x="263.2" y="527.0" font-size="31.6" fill="#111" font-weight="normal" text-anchor="start" textLength="91.16" lengthAdjust="spacingAndGlyphs" transform="rotate(-90 263.2 527.0)">150cm</text>
<text x="318.0" y="933" font-size="23.8" fill="#111" font-weight="normal" text-anchor="start" textLength="68.06" lengthAdjust="spacingAndGlyphs">20cm</text>
<text x="568.0" y="42.5" font-size="23.9" fill="#111" font-weight="normal" text-anchor="start" textLength="63.02" lengthAdjust="spacingAndGlyphs">41cm</text>
<text x="677.0" y="934" font-size="23.2" fill="#111" font-weight="normal" text-anchor="start" textLength="66.04" lengthAdjust="spacingAndGlyphs">6,5cm</text>
<text x="811.4" y="881.0" font-size="26.8" fill="#111" font-weight="normal" text-anchor="start" textLength="62.12" lengthAdjust="spacingAndGlyphs" transform="rotate(-90 811.4 881.0)">15cm</text>
<text x="857.7" y="652.5" font-size="26.4" fill="#111" font-weight="normal" text-anchor="start" textLength="88.56" lengthAdjust="spacingAndGlyphs" transform="rotate(-90 857.7 652.5)">98,5cm</text>
<text x="905.2" y="327.8" font-size="15.7" fill="#7c7c7c" font-weight="bold" text-anchor="start" textLength="57" lengthAdjust="spacingAndGlyphs">miejsce</text>
<text x="905.2" y="343.6" font-size="15.7" fill="#7c7c7c" font-weight="bold" text-anchor="start" textLength="85.5" lengthAdjust="spacingAndGlyphs">mocowania</text>
<text x="905.2" y="359.6" font-size="15.7" fill="#7c7c7c" font-weight="bold" text-anchor="start" textLength="50.4" lengthAdjust="spacingAndGlyphs">panelu</text>
<text x="905.2" y="799.9000000000001" font-size="15.7" fill="#7c7c7c" font-weight="bold" text-anchor="start" textLength="57" lengthAdjust="spacingAndGlyphs">miejsce</text>
<text x="905.2" y="815.7" font-size="15.7" fill="#7c7c7c" font-weight="bold" text-anchor="start" textLength="85.5" lengthAdjust="spacingAndGlyphs">mocowania</text>
<text x="905.2" y="831.7" font-size="15.7" fill="#7c7c7c" font-weight="bold" text-anchor="start" textLength="50.4" lengthAdjust="spacingAndGlyphs">panelu</text></g>
</svg>
</body></html>
